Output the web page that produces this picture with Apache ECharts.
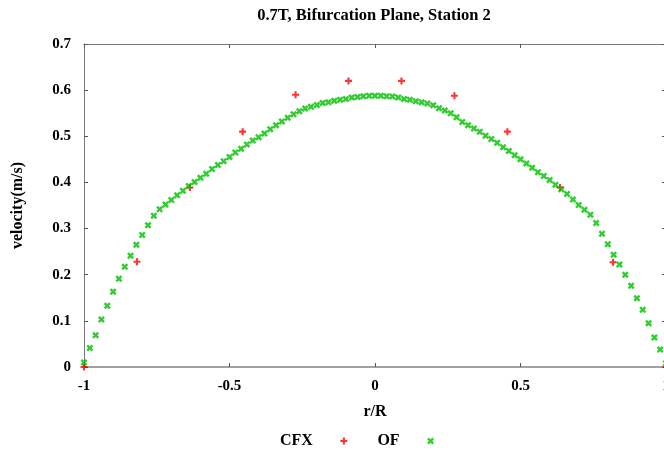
<!DOCTYPE html>
<html>
<head>
<meta charset="utf-8">
<script src="https://cdn.jsdelivr.net/npm/echarts@6/dist/echarts.min.js"></script>
<style>html,body{margin:0;padding:0;background:#fff;}#c{width:664px;height:455px;}</style>
</head>
<body>
<div id="c"></div>
<script>
var titleText = '0.7T, Bifurcation Plane, Station 2';
var xName = 'r/R';
var yName = 'velocity(m/s)';
var xTicks = [-1, -0.5, 0, 0.5, 1];
var yTicks = [0, 0.1, 0.2, 0.3, 0.4, 0.5, 0.6, 0.7];

var cfxX = [-1, -0.818, -0.636, -0.455, -0.273, -0.091, 0.091, 0.273, 0.455, 0.636, 0.818, 1];
var cfxY = [0, 0.228, 0.389, 0.510, 0.590, 0.620, 0.620, 0.588, 0.510, 0.389, 0.227, 0];

var ofX = [-1.00,-0.98,-0.96,-0.94,-0.92,-0.90,-0.88,-0.86,-0.84,-0.82,
           -0.80,-0.78,-0.76,-0.74,-0.72,-0.70,-0.68,-0.66,-0.64,-0.62,
           -0.60,-0.58,-0.56,-0.54,-0.52,-0.50,-0.48,-0.46,-0.44,-0.42,
           -0.40,-0.38,-0.36,-0.34,-0.32,-0.30,-0.28,-0.26,-0.24,-0.22,
           -0.20,-0.18,-0.16,-0.14,-0.12,-0.10,-0.08,-0.06,-0.04,-0.02,
            0.00, 0.02, 0.04, 0.06, 0.08, 0.10, 0.12, 0.14, 0.16, 0.18,
            0.20, 0.22, 0.24, 0.26, 0.28, 0.30, 0.32, 0.34, 0.36, 0.38,
            0.40, 0.42, 0.44, 0.46, 0.48, 0.50, 0.52, 0.54, 0.56, 0.58,
            0.60, 0.62, 0.64, 0.66, 0.68, 0.70, 0.72, 0.74, 0.76, 0.78,
            0.80, 0.82, 0.84, 0.86, 0.88, 0.90, 0.92, 0.94, 0.96, 0.98, 1.00];
var ofY = [0.010,0.041,0.069,0.103,0.133,0.163,0.191,0.217,0.241,0.265,
           0.286,0.307,0.328,0.342,0.352,0.362,0.372,0.382,0.392,0.401,
           0.410,0.419,0.429,0.438,0.446,0.455,0.465,0.473,0.482,0.491,
           0.498,0.506,0.515,0.524,0.532,0.540,0.548,0.554,0.560,0.564,
           0.568,0.572,0.574,0.577,0.579,0.581,0.584,0.585,0.587,0.588,
           0.588,0.588,0.587,0.586,0.584,0.581,0.579,0.576,0.574,0.571,
           0.567,0.561,0.556,0.550,0.541,0.531,0.524,0.517,0.510,0.501,
           0.494,0.486,0.476,0.468,0.459,0.450,0.441,0.432,0.422,0.414,
           0.405,0.395,0.385,0.375,0.363,0.351,0.341,0.330,0.312,0.289,
           0.266,0.243,0.222,0.200,0.176,0.149,0.124,0.095,0.064,0.038,0.008];

function pairs(xs, ys) { return xs.map(function (x, i) { return [x, ys[i]]; }); }

var FONT = '"Liberation Serif", "DejaVu Serif", serif';
var PLUS = 'path://M2.8,0H5.2V2.8H8V5.2H5.2V8H2.8V5.2H0V2.8H2.8Z';
var CROSS = 'path://M0,2L2,0L4,2L6,0L8,2L6,4L8,6L6,8L4,6L2,8L0,6L2,4Z';

var chart = echarts.init(document.getElementById('c'), null, {renderer: 'canvas'});
function fmt(v) { return String(Math.round(v * 10) / 10); }
var axisBase = {
  type: 'value', splitLine: {show: false},
  axisTick: {show: true, inside: true, length: 4, lineStyle: {color: '#555', width: 1}}
};
chart.setOption({
  animation: false,
  backgroundColor: '#fff',
  title: {
    text: titleText, left: 374, textAlign: 'center', top: 7, padding: 0,
    textStyle: {fontFamily: FONT, fontWeight: 'bold', fontSize: 16.5, color: '#000'}
  },
  grid: {left: 84, right: -2, top: 44, bottom: 88, containLabel: false, outerBoundsMode: 'none'},
  legend: {
    data: ['CFX', 'OF'], left: 280, top: 433, align: 'right', padding: 0,
    itemWidth: 52, itemHeight: 7, itemGap: 30, symbolKeepAspect: true,
    textStyle: {fontFamily: FONT, fontWeight: 'bold', fontSize: 16, color: '#000'}
  },
  xAxis: [
    Object.assign({}, axisBase, {
      min: xTicks[0], max: xTicks[xTicks.length - 1], interval: 0.5, position: 'bottom',
      name: xName, nameLocation: 'middle', nameGap: 37,
      nameTextStyle: {fontFamily: FONT, fontWeight: 'bold', fontSize: 16, color: '#000'},
      axisLine: {show: true, onZero: false, lineStyle: {color: '#a0a0a0', width: 2}},
      axisLabel: {fontFamily: FONT, fontWeight: 'bold', fontSize: 15, color: '#000', margin: 12, formatter: fmt}
    }),
    Object.assign({}, axisBase, {
      min: xTicks[0], max: xTicks[xTicks.length - 1], interval: 0.5, position: 'top',
      axisLine: {show: true, onZero: false, lineStyle: {color: '#777', width: 1}},
      axisLabel: {show: false}
    })
  ],
  yAxis: [
    Object.assign({}, axisBase, {
      min: yTicks[0], max: yTicks[yTicks.length - 1], interval: 0.1, position: 'left',
      name: yName, nameLocation: 'middle', nameGap: 58, nameRotate: 90,
      nameTextStyle: {fontFamily: FONT, fontWeight: 'bold', fontSize: 16, color: '#000'},
      axisLine: {show: true, onZero: false, lineStyle: {color: '#777', width: 1}},
      axisLabel: {fontFamily: FONT, fontWeight: 'bold', fontSize: 15, color: '#000', margin: 13, formatter: fmt}
    }),
    Object.assign({}, axisBase, {
      min: yTicks[0], max: yTicks[yTicks.length - 1], interval: 0.1, position: 'right',
      axisLine: {show: true, onZero: false, lineStyle: {color: '#777', width: 1}},
      axisLabel: {show: false}
    })
  ],
  series: [
    {
      name: 'CFX', type: 'scatter', data: pairs(cfxX, cfxY),
      symbol: PLUS, symbolSize: 7, silent: true,
      itemStyle: {color: '#ff0000'}
    },
    {
      name: 'OF', type: 'scatter', data: pairs(ofX, ofY),
      symbol: CROSS, symbolSize: 7, silent: true,
      itemStyle: {color: '#00c000'}
    }
  ]
});
</script>
</body>
</html>
